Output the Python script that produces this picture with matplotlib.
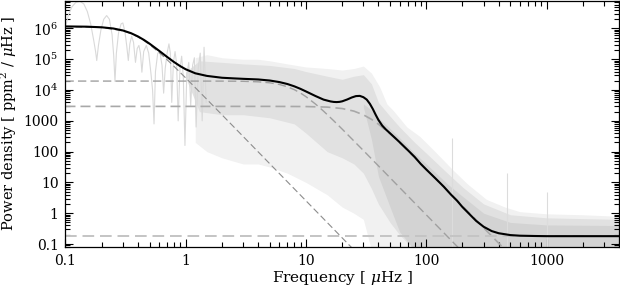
import numpy as np
import matplotlib
matplotlib.use("Agg")
import matplotlib.pyplot as plt
from matplotlib.ticker import FixedLocator, LogLocator, FuncFormatter, NullFormatter

plt.rcParams['font.family'] = ['DejaVu Serif']
plt.rcParams['mathtext.fontset'] = 'dejavuserif'
plt.rcParams['font.size'] = 10

# --- values (log10 of power density) ---

# fitted background model (black curve)
model_freq = [0.1, 0.15, 0.2, 0.25, 0.3, 0.35, 0.4, 0.45, 0.5, 0.6, 0.7, 0.8, 0.9, 1.0,
              1.2, 1.5, 2, 2.5, 3, 4, 5, 6, 7, 8, 9, 10, 12, 14, 16, 17, 18, 19, 20,
              22, 24, 26, 28, 30, 32, 34, 36, 38, 40, 43, 46, 50, 55, 60, 70, 80, 90,
              100, 120, 140, 160, 180, 200, 230, 260, 300, 350, 400, 500, 600, 800,
              1000, 2000, 4000]
model_log = [6.067, 6.059, 6.039, 6.000, 5.936, 5.849, 5.743, 5.627, 5.507, 5.277, 5.076,
             4.909, 4.777, 4.675, 4.545, 4.460, 4.400, 4.380, 4.365, 4.345, 4.310, 4.260,
             4.197, 4.121, 4.039, 3.955, 3.806, 3.690, 3.631, 3.615, 3.610, 3.617, 3.635,
             3.694, 3.759, 3.804, 3.811, 3.769, 3.690, 3.552, 3.380, 3.194, 3.030, 2.848,
             2.725, 2.596, 2.447, 2.308, 2.054, 1.829, 1.600, 1.420, 1.120, 0.860, 0.610,
             0.410, 0.200, -0.040, -0.250, -0.440, -0.580, -0.650, -0.710, -0.730,
             -0.740, -0.745, -0.745, -0.745]

# dashed background components
comp1_freq = [0.1, 0.2, 0.3, 0.35, 0.4, 0.45, 0.5, 0.6, 0.7, 0.8, 1.0, 1.5, 2, 3, 5, 10, 20, 25]
comp1_log = [6.059, 6.030, 5.924, 5.835, 5.725, 5.603, 5.476, 5.222, 4.984, 4.768, 4.393,
             3.696, 3.198, 2.494, 1.606, 0.403, -0.801, -1.190]
comp2_freq = [0.1, 1, 2, 3, 4, 5, 6, 7, 8, 9, 10, 12, 14, 17, 20, 30, 50, 100, 200]
comp2_log = [4.292, 4.292, 4.291, 4.285, 4.268, 4.236, 4.183, 4.107, 4.012, 3.903, 3.785,
             3.545, 3.315, 3.003, 2.731, 2.037, 1.151, -0.053, -1.256]
comp3_freq = [0.1, 5, 10, 15, 20, 25, 30, 35, 40, 50, 60, 80, 100, 150, 200, 300, 450]
comp3_log = [3.470, 3.470, 3.465, 3.447, 3.400, 3.317, 3.196, 3.051, 2.893, 2.580, 2.293,
             1.813, 1.431, 0.730, 0.231, -0.474, -1.178]
noise_freq = [0.1, 4000]
noise_log = [-0.745, -0.745]

# power spectrum, low-frequency lobes
lobe_freq = [0.100, 0.106, 0.113, 0.122, 0.132, 0.142, 0.152, 0.162, 0.172, 0.178, 0.182,
             0.188, 0.197, 0.208, 0.220, 0.232, 0.244, 0.252, 0.258, 0.265, 0.276, 0.290,
             0.300, 0.312, 0.324, 0.333, 0.343, 0.355, 0.368, 0.382, 0.395, 0.408, 0.420,
             0.432, 0.447, 0.470, 0.492, 0.515, 0.530, 0.545, 0.560, 0.585, 0.610, 0.635,
             0.655, 0.675, 0.700, 0.725, 0.745, 0.765, 0.790, 0.815, 0.840, 0.865, 0.895,
             0.925, 0.955, 0.985, 1.02, 1.06, 1.10, 1.14, 1.18, 1.22, 1.27, 1.32, 1.37,
             1.42, 1.48]
lobe_log = [6.05, 6.45, 6.70, 6.85, 6.88, 6.80, 6.55, 6.15, 5.60, 5.25, 4.96,
            5.45, 5.95, 6.30, 6.42, 6.30, 5.80, 5.10, 4.28, 5.20, 5.85, 6.15,
            6.18, 5.90, 5.40, 4.96, 5.50, 5.75, 5.55, 4.90, 5.35, 5.45, 5.20,
            4.58, 5.25, 5.45, 5.20, 4.50, 4.00, 2.90, 4.60, 5.20, 5.23, 4.80,
            3.90, 4.70, 5.20, 5.50, 5.20, 3.60, 4.90, 5.25, 4.85, 3.00, 4.70,
            5.10, 4.40, 2.20, 4.50, 4.90, 3.50, 4.80, 5.05, 2.80, 4.70, 5.20, 3.00,
            5.39, 3.60]

# power spectrum, envelopes of the noisy part: sparse spikes, main band, dense core
outer_freq = [1.2, 1.5, 2, 3, 4, 5, 7, 10, 15, 20, 25, 30, 35, 41, 47, 53, 69, 88,
              115, 167, 220, 316, 450, 600, 1000, 2000, 4000]
outer_up = [5.05, 5.15, 5.05, 5.00, 5.00, 4.95, 4.85, 4.75, 4.70, 4.65, 4.70, 4.78,
            4.55, 4.10, 3.55, 3.34, 2.80, 2.50, 2.05, 1.40, 0.95, 0.45, 0.20, 0.05,
            -0.02, -0.05, -0.10]
outer_lo = [2.30, 2.00, 1.80, 1.60, 1.60, 1.50, 1.30, 1.00, 0.60, 0.20, 0.00, -0.20,
            -1.20, -1.20, -1.20, -1.20, -1.20, -1.20, -1.20, -1.20, -1.20, -1.20,
            -1.20, -1.20, -1.20, -1.20, -1.20]
mid_freq = [1.0, 1.3, 2, 3, 5, 8, 10, 15, 20, 25, 30, 35, 40, 50, 60, 80, 100, 150, 200,
            300, 500, 1000, 4000]
mid_up = [4.60, 4.95, 4.90, 4.85, 4.80, 4.70, 4.60, 4.45, 4.35, 4.45, 4.50, 4.20, 3.60,
          3.15, 2.80, 2.30, 1.95, 1.30, 0.85, 0.30, -0.05, -0.15, -0.20]
mid_lo = [4.40, 3.30, 3.20, 3.20, 3.10, 2.90, 2.60, 2.00, 1.80, 1.60, 1.30, 0.80, 0.30,
          -0.30, -0.70, -1.20, -1.20, -1.20, -1.20, -1.20, -1.20, -1.20, -1.20]
core_freq = [30, 35, 40, 50, 60, 80, 100, 150, 200, 300, 500, 1000, 4000]
core_up = [3.55, 3.35, 3.10, 2.75, 2.45, 1.95, 1.60, 0.95, 0.55, 0.00, -0.30, -0.38, -0.40]
core_lo = [3.45, 2.40, 1.20, 0.20, -0.60, -1.20, -1.20, -1.20, -1.20, -1.20, -1.20,
           -1.20, -1.20]

# a few isolated tall spikes
spike_freq = [163, 470, 1000]
spike_log = [2.45, 1.30, 0.70]


def p(v):
    return 10 ** np.asarray(v, dtype=float)


fig = plt.figure(figsize=(6.2, 2.87), dpi=100)
ax = fig.add_axes([0.1056, 0.1394, 0.8927, 0.8586])
ax.set_xscale('log')
ax.set_yscale('log')

# spectrum
ax.fill_between(outer_freq, p(outer_lo), p(outer_up), color='#f1f1f1', lw=0)
ax.fill_between(mid_freq, p(mid_lo), p(mid_up), color='#e1e1e1', lw=0)
ax.fill_between(core_freq, p(core_lo), p(core_up), color='#d3d3d3', lw=0)
ax.vlines(spike_freq, 0.01, p(spike_log), color='#dcdcdc', lw=0.8)
ax.plot(lobe_freq, p(lobe_log), color='#d9d9d9', lw=0.8)

# components
dash = (0, (6, 3))
ax.plot(comp1_freq, p(comp1_log), color='#8c8c8c', lw=0.8, ls=dash)
ax.plot(comp2_freq, p(comp2_log), color='#a0a0a0', lw=1.0, ls=dash)
ax.plot(comp3_freq, p(comp3_log), color='#a8a8a8', lw=1.2, ls=dash)
ax.plot(noise_freq, p(noise_log), color='#c4c4c4', lw=1.4, ls=dash)

# model
ax.plot(model_freq, p(model_log), color='black', lw=1.5)

ax.set_xlim(0.1, 4000)
ax.set_ylim(0.08, 8.07e6)

ymaj = [0.1, 1, 10, 100, 1000, 1e4, 1e5, 1e6]


def yfmt(v, pos):
    if v >= 1e4:
        return r'$10^{%d}$' % round(np.log10(v))
    if v < 1:
        return '0.1'
    return '%d' % v


def xfmt(v, pos):
    return '0.1' if v < 1 else '%d' % v


ax.yaxis.set_major_locator(FixedLocator(ymaj))
ax.yaxis.set_major_formatter(FuncFormatter(yfmt))
ax.xaxis.set_major_locator(FixedLocator([0.1, 1, 10, 100, 1000]))
ax.xaxis.set_major_formatter(FuncFormatter(xfmt))
for a in (ax.xaxis, ax.yaxis):
    a.set_minor_locator(LogLocator(base=10, subs=np.arange(2, 10), numticks=20))
    a.set_minor_formatter(NullFormatter())

ax.tick_params(which='both', direction='in', top=True, right=True, width=0.8)
ax.tick_params(which='major', length=6, pad=5)
ax.tick_params(which='minor', length=3.5)
for s in ax.spines.values():
    s.set_linewidth(0.9)

ax.set_xlabel(r'Frequency [ $\mu$Hz ]', fontsize=11, labelpad=1)
ax.set_ylabel(r'Power density [ ppm$^2$ / $\mu$Hz ]', fontsize=10.5, labelpad=3)

fig.savefig('out.png', dpi=100)
